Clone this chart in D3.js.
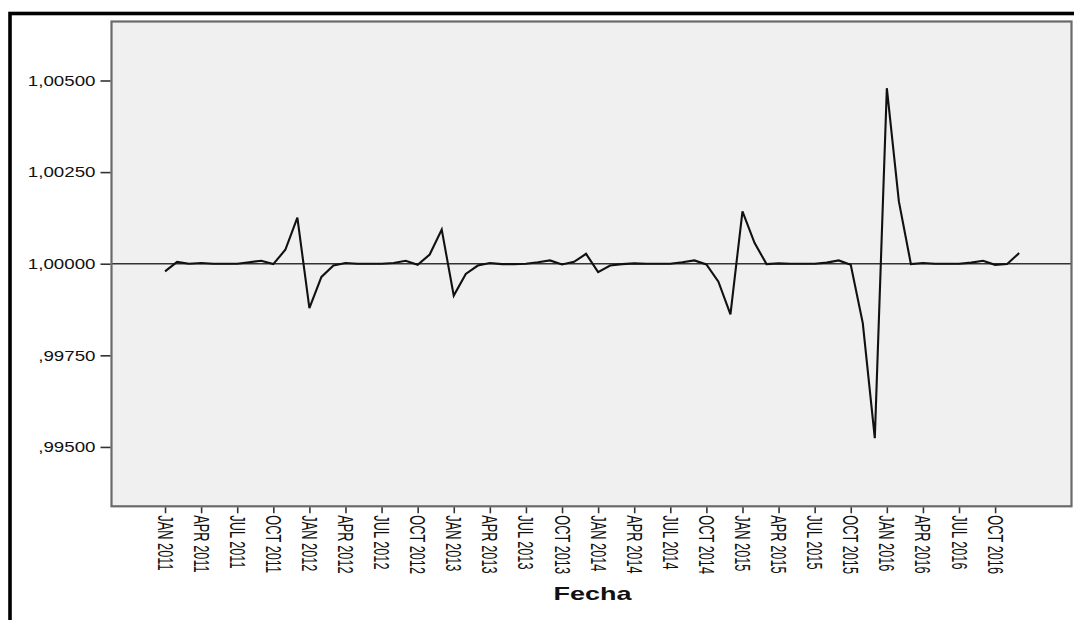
<!DOCTYPE html>
<html>
<head>
<meta charset="utf-8">
<script src="https://cdn.jsdelivr.net/npm/d3@7/dist/d3.min.js"></script>
<style>
  html, body { margin: 0; padding: 0; background: #fff; }
  svg { display: block; }
  text { font-family: "Liberation Sans", Arial, sans-serif; fill: #111; }
</style>
</head>
<body>
<svg id="chart" width="1074" height="620"></svg>
<script>
// Monthly series, Jan 2011 .. Dec 2016 (index 0 = JAN 2011)
const months = d3.range(72);
const values = [
  0.99979, 1.00005, 1.00000, 1.00002, 1.00000, 1.00000, 1.00000, 1.00004, 1.00008, 0.99999, 1.00038, 1.00126,
  0.99879, 0.99964, 0.99995, 1.00002, 1.00000, 1.00000, 1.00000, 1.00002, 1.00008, 0.99997, 1.00025, 1.00093,
  0.99913, 0.99972, 0.99995, 1.00002, 0.99999, 0.99999, 1.00000, 1.00004, 1.00009, 0.99998, 1.00005, 1.00027,
  0.99977, 0.99995, 0.99999, 1.00001, 1.00000, 1.00000, 1.00000, 1.00004, 1.00009, 0.99998, 0.99951, 0.99862,
  1.00143, 1.00057, 0.99999, 1.00001, 1.00000, 1.00000, 1.00000, 1.00003, 1.00009, 0.99997, 0.99838, 0.99524,
  1.00479, 1.00170, 0.99999, 1.00002, 1.00000, 1.00000, 1.00000, 1.00003, 1.00008, 0.99997, 0.99999, 1.00029
];
const xTickMonths = d3.range(0, 72, 3);
const xTickLabels = [
  "JAN 2011", "APR 2011", "JUL 2011", "OCT 2011",
  "JAN 2012", "APR 2012", "JUL 2012", "OCT 2012",
  "JAN 2013", "APR 2013", "JUL 2013", "OCT 2013",
  "JAN 2014", "APR 2014", "JUL 2014", "OCT 2014",
  "JAN 2015", "APR 2015", "JUL 2015", "OCT 2015",
  "JAN 2016", "APR 2016", "JUL 2016", "OCT 2016"
];
const yTickValues = [0.995, 0.9975, 1.0, 1.0025, 1.005];
const yTickLabels = [",99500", ",99750", "1,00000", "1,00250", "1,00500"];
const referenceValue = 1.0;
const xTitle = "Fecha";

const svg = d3.select("#chart");

// Outer frame
svg.append("rect")
  .attr("x", 10).attr("y", 13.5)
  .attr("width", 1200).attr("height", 800)
  .attr("fill", "none").attr("stroke", "#000").attr("stroke-width", 3.6);

const plot = { left: 111.5, top: 21.5, right: 1071.5, bottom: 506.3 };

const x = d3.scaleLinear().domain([-4.45, 75.35]).range([plot.left, plot.right]);
const y = d3.scaleLinear().domain([0.99338, 1.00661]).range([plot.bottom, plot.top]);

// Plot background
svg.append("rect")
  .attr("x", plot.left).attr("y", plot.top)
  .attr("width", plot.right - plot.left).attr("height", plot.bottom - plot.top)
  .attr("fill", "#f0f0f0");

// Reference line
svg.append("line")
  .attr("x1", plot.left).attr("x2", plot.right)
  .attr("y1", y(referenceValue)).attr("y2", y(referenceValue))
  .attr("stroke", "#333").attr("stroke-width", 1.6);

// Series line
const line = d3.line().x((d, i) => x(months[i])).y(d => y(d));
svg.append("path")
  .datum(values)
  .attr("d", line)
  .attr("fill", "none")
  .attr("stroke", "#111")
  .attr("stroke-width", 2.1)
  .attr("stroke-linejoin", "miter");

// Plot border
svg.append("rect")
  .attr("x", plot.left).attr("y", plot.top)
  .attr("width", plot.right - plot.left).attr("height", plot.bottom - plot.top)
  .attr("fill", "none").attr("stroke", "#6a6a6a").attr("stroke-width", 2.2);

// Y axis
const yAxis = d3.axisLeft(y)
  .tickValues(yTickValues)
  .tickSize(10)
  .tickFormat((d, i) => yTickLabels[i]);
const gy = svg.append("g").attr("transform", `translate(${plot.left - 1},0)`).call(yAxis);
gy.select(".domain").remove();
gy.selectAll(".tick line").attr("stroke", "#333").attr("stroke-width", 1.6);
gy.selectAll(".tick text")
  .attr("x", 0).attr("dy", null)
  .attr("dominant-baseline", "central")
  .attr("text-anchor", "end")
  .attr("font-size", 15)
  .attr("transform", "translate(-15,0) scale(1.25,1)");

// X axis
const xAxis = d3.axisBottom(x)
  .tickValues(xTickMonths)
  .tickSize(6)
  .tickFormat((d, i) => xTickLabels[i]);
const gx = svg.append("g").attr("transform", `translate(0,${plot.bottom + 1})`).call(xAxis);
gx.select(".domain").remove();
gx.selectAll(".tick line").attr("stroke", "#333").attr("stroke-width", 1.6);
gx.selectAll(".tick text")
  .attr("x", 0).attr("y", 0).attr("dy", null)
  .attr("text-anchor", "start")
  .attr("dominant-baseline", "central")
  .attr("font-size", 12.8)
  .attr("transform", "translate(0,8) scale(1.75,1) rotate(90)");

// X title
svg.append("text")
  .attr("x", 0).attr("y", 0)
  .attr("text-anchor", "middle")
  .attr("font-size", 18)
  .attr("font-weight", "bold")
  .attr("transform", `translate(${(plot.left + plot.right) / 2 + 1},600) scale(1.5,1)`)
  .text(xTitle);
</script>
</body>
</html>
